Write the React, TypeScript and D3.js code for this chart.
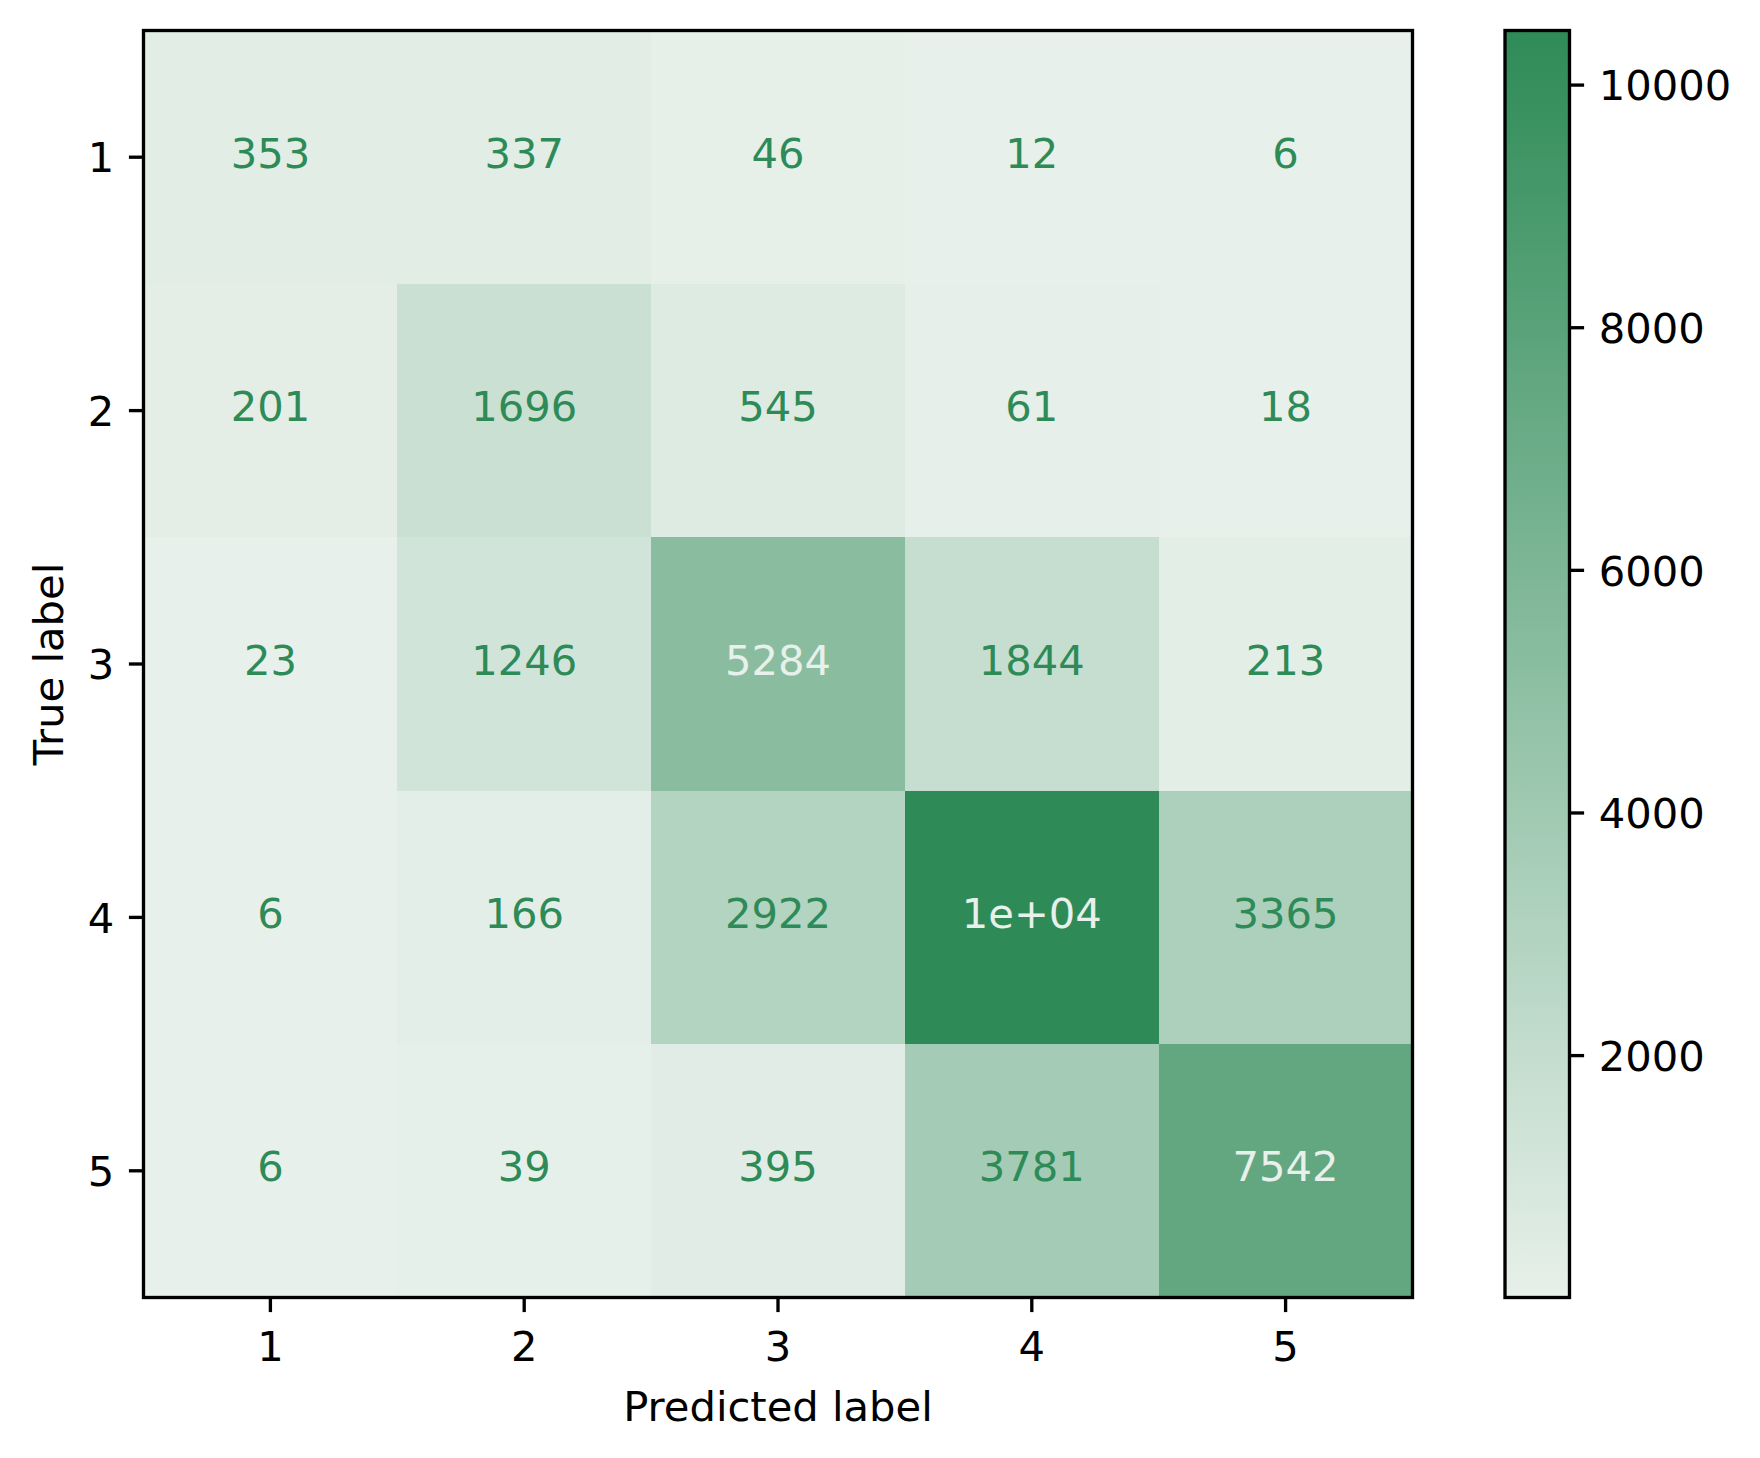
import React from "react";
import * as d3 from "d3";

// ---- data ----
const predictedLabels = ["1", "2", "3", "4", "5"];
const trueLabels = ["1", "2", "3", "4", "5"];
const row1 = [353, 337, 46, 12, 6];
const row2 = [201, 1696, 545, 61, 18];
const row3 = [23, 1246, 5284, 1844, 213];
const row4 = [6, 166, 2922, 10450, 3365];
const row5 = [6, 39, 395, 3781, 7542];
const matrix = [row1, row2, row3, row4, row5];
const colorbarTicks = [2000, 4000, 6000, 8000, 10000];
const xAxisTitle = "Predicted label";
const yAxisTitle = "True label";

// ---- styling ----
const W = 1760;
const H = 1458;
const plot = { left: 143.5, top: 30.5, right: 1412.5, bottom: 1297.5 };
const cbar = { left: 1505, right: 1569.5, top: 30.5, bottom: 1297.5 };
const LIGHT = "rgb(231,240,234)";
const DARK = "rgb(46,139,87)";
const FONT = "'DejaVu Sans', sans-serif";
const FS = 41.67;
const LW = 3.33;
const TICK = 14.6;
const PAD = 14.6;

// sklearn-like text formatting: ".2g" unless "d" is shorter
function pyG2(v: number): string {
  if (v === 0) return "0";
  const exp = Math.floor(Math.log10(Math.abs(v)));
  if (exp >= 2 || exp < -4) {
    let [m, e] = v.toExponential(1).split("e");
    m = m.replace(/\.?0+$/, "");
    const en = parseInt(e, 10);
    const es = (en < 0 ? "-" : "+") + String(Math.abs(en)).padStart(2, "0");
    return m + "e" + es;
  }
  return String(parseFloat(v.toPrecision(2)));
}
function cellText(v: number): string {
  const g = pyG2(v);
  const d = String(Math.round(v));
  return d.length < g.length ? d : g;
}

export default function App() {
  const all = matrix.flat();
  const vmin = d3.min(all) as number;
  const vmax = d3.max(all) as number;
  const thresh = (vmin + vmax) / 2;

  const x = d3.scaleBand<string>().domain(predictedLabels).range([plot.left, plot.right]);
  const y = d3.scaleBand<string>().domain(trueLabels).range([plot.top, plot.bottom]);
  const color = d3
    .scaleLinear<string>()
    .domain([vmin, vmax])
    .range([LIGHT, DARK])
    .interpolate(d3.interpolateRgb);
  const cy = d3.scaleLinear().domain([vmin, vmax]).range([cbar.bottom, cbar.top]);

  const bw = x.bandwidth();
  const bh = y.bandwidth();

  return (
    <svg
      width={W}
      height={H}
      style={{ position: "absolute", left: 0, top: 0, background: "#fff" }}
      fontFamily={FONT}
    >
      <defs>
        <linearGradient id="cbgrad" x1="0" y1="1" x2="0" y2="0">
          <stop offset="0" stopColor={LIGHT} />
          <stop offset="1" stopColor={DARK} />
        </linearGradient>
      </defs>
      <rect x={0} y={0} width={W} height={H} fill="#fff" />

      {/* cells */}
      <g shapeRendering="crispEdges">
        {matrix.map((row, i) =>
          row.map((v, j) => (
            <rect
              key={`c${i}-${j}`}
              x={x(predictedLabels[j])}
              y={y(trueLabels[i])}
              width={bw + 0.5}
              height={bh + 0.5}
              fill={color(v)}
            />
          ))
        )}
      </g>
      {/* cell texts */}
      {matrix.map((row, i) =>
        row.map((v, j) => (
          <text
            key={`t${i}-${j}`}
            x={(x(predictedLabels[j]) as number) + bw / 2}
            y={(y(trueLabels[i]) as number) + bh / 2 + 10.5}
            textAnchor="middle"
            fontSize={FS}
            fill={v < thresh ? DARK : LIGHT}
          >
            {cellText(v)}
          </text>
        ))
      )}
      {/* frame */}
      <rect
        x={plot.left}
        y={plot.top}
        width={plot.right - plot.left}
        height={plot.bottom - plot.top}
        fill="none"
        stroke="#000"
        strokeWidth={LW}
      />
      {/* x ticks */}
      {predictedLabels.map((c) => {
        const cx = (x(c) as number) + bw / 2;
        return (
          <g key={`xt${c}`}>
            <line x1={cx} x2={cx} y1={plot.bottom} y2={plot.bottom + TICK} stroke="#000" strokeWidth={LW} />
            <text x={cx} y={1361} textAnchor="middle" fontSize={FS} fill="#000">
              {c}
            </text>
          </g>
        );
      })}
      {/* y ticks */}
      {trueLabels.map((c) => {
        const cyy = (y(c) as number) + bh / 2;
        return (
          <g key={`yt${c}`}>
            <line x1={plot.left - TICK} x2={plot.left} y1={cyy} y2={cyy} stroke="#000" strokeWidth={LW} />
            <text x={plot.left - TICK - PAD} y={cyy + 15.2} textAnchor="end" fontSize={FS} fill="#000">
              {c}
            </text>
          </g>
        );
      })}
      {/* axis titles */}
      <text x={(plot.left + plot.right) / 2} y={1421} textAnchor="middle" fontSize={FS} fill="#000">
        {xAxisTitle}
      </text>
      <text
        transform={`translate(62.5,${(plot.top + plot.bottom) / 2}) rotate(-90)`}
        textAnchor="middle"
        fontSize={FS}
        fill="#000"
      >
        {yAxisTitle}
      </text>

      {/* colorbar */}
      <rect
        x={cbar.left}
        y={cbar.top}
        width={cbar.right - cbar.left}
        height={cbar.bottom - cbar.top}
        fill="url(#cbgrad)"
      />
      <rect
        x={cbar.left}
        y={cbar.top}
        width={cbar.right - cbar.left}
        height={cbar.bottom - cbar.top}
        fill="none"
        stroke="#000"
        strokeWidth={LW}
      />
      {colorbarTicks.map((t) => {
        const ty = cy(t);
        return (
          <g key={`cb${t}`}>
            <line x1={cbar.right} x2={cbar.right + TICK} y1={ty} y2={ty} stroke="#000" strokeWidth={LW} />
            <text x={cbar.right + TICK + PAD} y={ty + 15.2} textAnchor="start" fontSize={FS} fill="#000">
              {t}
            </text>
          </g>
        );
      })}
    </svg>
  );
}
